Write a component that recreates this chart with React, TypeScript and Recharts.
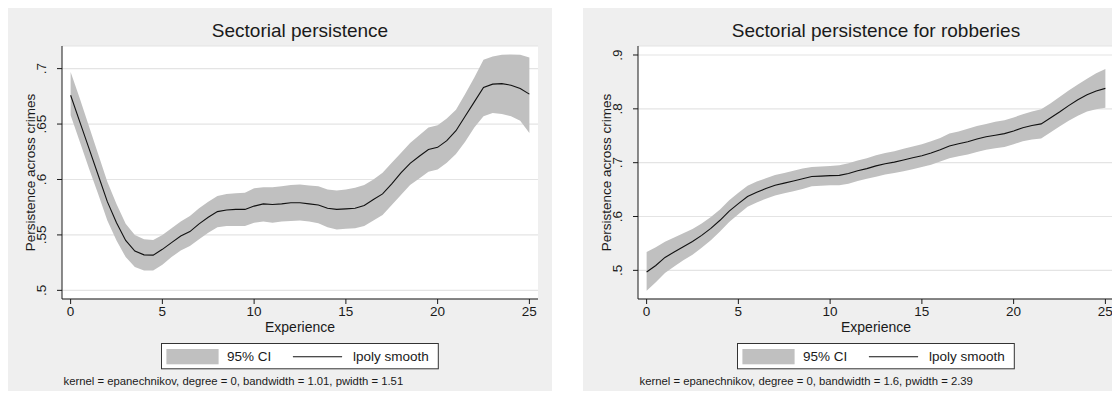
import React from 'react';
import { ComposedChart, Area, Line, XAxis, YAxis, CartesianGrid } from 'recharts';

// grid of experience values (lpoly evaluation points)
const experience = [
  0, 0.5, 1, 1.5, 2, 2.5, 3, 3.5, 4, 4.5,
  5, 5.5, 6, 6.5, 7, 7.5, 8, 8.5, 9, 9.5,
  10, 10.5, 11, 11.5, 12, 12.5, 13, 13.5, 14, 14.5,
  15, 15.5, 16, 16.5, 17, 17.5, 18, 18.5, 19, 19.5,
  20, 20.5, 21, 21.5, 22, 22.5, 23, 23.5, 24, 24.5, 25,
];

// all crimes
const allSmooth = [
  0.676, 0.652, 0.628, 0.604, 0.58, 0.561, 0.545, 0.5355, 0.532, 0.5318,
  0.537, 0.543, 0.549, 0.553, 0.56, 0.566, 0.571, 0.5725, 0.573, 0.573,
  0.576, 0.578, 0.5775, 0.578, 0.579, 0.579, 0.578, 0.577, 0.574, 0.573,
  0.5735, 0.574, 0.5765, 0.582, 0.587, 0.596, 0.606, 0.6145, 0.621, 0.627,
  0.629, 0.635, 0.644, 0.657, 0.67, 0.683, 0.686, 0.6865, 0.685, 0.682, 0.677,
];
const allHi = [
  0.697, 0.673, 0.648, 0.623, 0.598, 0.578, 0.56, 0.55, 0.546, 0.5455,
  0.55, 0.556, 0.562, 0.567, 0.574, 0.58, 0.585, 0.587, 0.5875, 0.588,
  0.592, 0.593, 0.593, 0.594, 0.595, 0.5955, 0.5945, 0.594, 0.591, 0.59,
  0.591, 0.5925, 0.595, 0.6, 0.606, 0.615, 0.624, 0.633, 0.64, 0.647,
  0.649, 0.655, 0.663, 0.677, 0.692, 0.708, 0.711, 0.7125, 0.7128, 0.7126, 0.71,
];
const allLo = [
  0.658, 0.634, 0.61, 0.587, 0.563, 0.545, 0.53, 0.521, 0.518, 0.518,
  0.523, 0.53, 0.536, 0.54, 0.546, 0.552, 0.557, 0.558, 0.558, 0.558,
  0.561, 0.562, 0.561, 0.562, 0.5625, 0.563, 0.562, 0.5605, 0.557, 0.555,
  0.5555, 0.556, 0.558, 0.563, 0.568, 0.577, 0.586, 0.595, 0.601, 0.607,
  0.609, 0.615, 0.623, 0.634, 0.647, 0.657, 0.66, 0.659, 0.657, 0.653, 0.642,
];

// robberies
const robSmooth = [
  0.497, 0.509, 0.524, 0.534, 0.544, 0.5535, 0.565, 0.578, 0.593, 0.61,
  0.624, 0.637, 0.645, 0.652, 0.658, 0.662, 0.666, 0.67, 0.6743, 0.675,
  0.676, 0.6765, 0.68, 0.685, 0.689, 0.694, 0.698, 0.701, 0.705, 0.709,
  0.713, 0.718, 0.724, 0.731, 0.735, 0.739, 0.744, 0.748, 0.751, 0.754,
  0.759, 0.765, 0.769, 0.772, 0.783, 0.794, 0.806, 0.817, 0.826, 0.833, 0.838,
];
const robHi = [
  0.534, 0.543, 0.553, 0.561, 0.569, 0.577, 0.587, 0.599, 0.613, 0.63,
  0.644, 0.657, 0.665, 0.671, 0.677, 0.681, 0.685, 0.689, 0.692, 0.693,
  0.694, 0.695, 0.699, 0.704, 0.708, 0.714, 0.718, 0.721, 0.726, 0.73,
  0.734, 0.74, 0.746, 0.754, 0.758, 0.763, 0.768, 0.772, 0.776, 0.779,
  0.784, 0.79, 0.795, 0.799, 0.81, 0.822, 0.834, 0.845, 0.856, 0.866, 0.874,
];
const robLo = [
  0.462, 0.478, 0.495, 0.507, 0.519, 0.529, 0.542, 0.556, 0.572, 0.59,
  0.604, 0.618, 0.626, 0.633, 0.639, 0.643, 0.647, 0.651, 0.656, 0.657,
  0.658, 0.658, 0.661, 0.666, 0.67, 0.674, 0.678, 0.681, 0.684, 0.688,
  0.692, 0.696, 0.702, 0.708, 0.712, 0.715, 0.72, 0.724, 0.727, 0.729,
  0.734, 0.74, 0.743, 0.745, 0.756, 0.767, 0.778, 0.787, 0.795, 0.799, 0.802,
];

const xTicks = [0, 5, 10, 15, 20, 25];
const allTicks = [0.5, 0.55, 0.6, 0.65, 0.7];
const robTicks = [0.5, 0.6, 0.7, 0.8, 0.9];

const FONT = '"Liberation Sans", Arial, Helvetica, sans-serif';
const INK = '#1a1a1a';
const fmt = (v: number) => String(v).replace(/^0/, '');

function YTick({ x, y, payload }: any) {
  return (
    <text
      x={x}
      y={y}
      transform={`rotate(-90, ${x}, ${y})`}
      textAnchor="middle"
      fontSize={13.5}
      fontFamily={FONT}
      fill={INK}
    >
      {fmt(payload.value)}
    </text>
  );
}

type PanelProps = {
  left: number;
  title: string;
  note: string;
  smooth: number[];
  lo: number[];
  hi: number[];
  yTicks: number[];
  yDomain: [number, number];
};

function Panel({ left, title, note, smooth, lo, hi, yTicks, yDomain }: PanelProps) {
  const rows = experience.map((x, i) => ({ x, smooth: smooth[i], ci: [lo[i], hi[i]] }));
  return (
    <div style={{ position: 'absolute', left, top: 7, width: 545, height: 392, background: '#efefef' }}>
      <ComposedChart width={545} height={340} data={rows} margin={{ top: 39, right: 14, bottom: 8, left: 0 }}>
        <CartesianGrid vertical={false} fill="#ffffff" fillOpacity={1} stroke="#e4e4e4" strokeWidth={1.2} />
        <XAxis
          dataKey="x"
          type="number"
          domain={[-0.47, 25.47]}
          ticks={xTicks}
          allowDataOverflow
          height={40}
          tickSize={5}
          tickMargin={2}
          stroke={INK}
          tick={{ fontSize: 13.5, fontFamily: FONT, fill: INK }}
          label={(p: any) => (
            <text
              x={p.viewBox.x + p.viewBox.width / 2}
              y={p.viewBox.y + 32.7}
              textAnchor="middle"
              fontSize={14}
              fontFamily={FONT}
              fill={INK}
            >
              Experience
            </text>
          )}
        />
        <YAxis
          type="number"
          domain={yDomain}
          ticks={yTicks}
          allowDataOverflow
          width={55}
          tickSize={5}
          tickMargin={11}
          stroke={INK}
          tick={<YTick />}
          label={(p: any) => {
            const cx = 28;
            const cy = p.viewBox.y + p.viewBox.height / 2;
            return (
              <text
                x={cx}
                y={cy}
                transform={`rotate(-90, ${cx}, ${cy})`}
                textAnchor="middle"
                fontSize={13.5}
                fontFamily={FONT}
                fill={INK}
              >
                Persistence across crimes
              </text>
            );
          }}
        />
        <Area
          dataKey="ci"
          type="linear"
          stroke="none"
          fill="#c0c0c0"
          fillOpacity={1}
          dot={false}
          activeDot={false}
          isAnimationActive={false}
        />
        <Line
          dataKey="smooth"
          type="linear"
          stroke="#111111"
          strokeWidth={1.1}
          dot={false}
          activeDot={false}
          isAnimationActive={false}
        />
      </ComposedChart>
      <svg
        width={545}
        height={392}
        style={{ position: 'absolute', left: 0, top: 0, pointerEvents: 'none' }}
        fontFamily={FONT}
      >
        <text x={293} y={29.7} textAnchor="middle" fontSize={19} fill={INK}>
          {title}
        </text>
        <rect x={154.5} y={336.5} width={276.8} height={25.3} fill="#ffffff" stroke="#333333" strokeWidth={1} />
        <rect x={159.4} y={342} width={52.2} height={15.3} fill="#c0c0c0" />
        <text x={220} y={354.4} fontSize={13.5} fill={INK}>
          95% CI
        </text>
        <line x1={285.9} x2={335.1} y1={349.7} y2={349.7} stroke="#111111" strokeWidth={1.1} />
        <text x={345.9} y={354.4} fontSize={13.5} fill={INK}>
          lpoly smooth
        </text>
        <text x={56.6} y={377.8} fontSize={11.3} fill={INK}>
          {note}
        </text>
      </svg>
    </div>
  );
}

export default function App() {
  return (
    <div
      style={{
        position: 'relative',
        width: 1120,
        height: 399,
        margin: -8,
        background: '#ffffff',
        overflow: 'hidden',
      }}
    >
      <Panel
        left={7}
        title="Sectorial persistence"
        note="kernel = epanechnikov, degree = 0, bandwidth = 1.01, pwidth = 1.51"
        smooth={allSmooth}
        lo={allLo}
        hi={allHi}
        yTicks={allTicks}
        yDomain={[0.4922, 0.7204]}
      />
      <Panel
        left={583}
        title="Sectorial persistence for robberies"
        note="kernel = epanechnikov, degree = 0, bandwidth = 1.6, pwidth = 2.39"
        smooth={robSmooth}
        lo={robLo}
        hi={robHi}
        yTicks={robTicks}
        yDomain={[0.4468, 0.9167]}
      />
    </div>
  );
}
